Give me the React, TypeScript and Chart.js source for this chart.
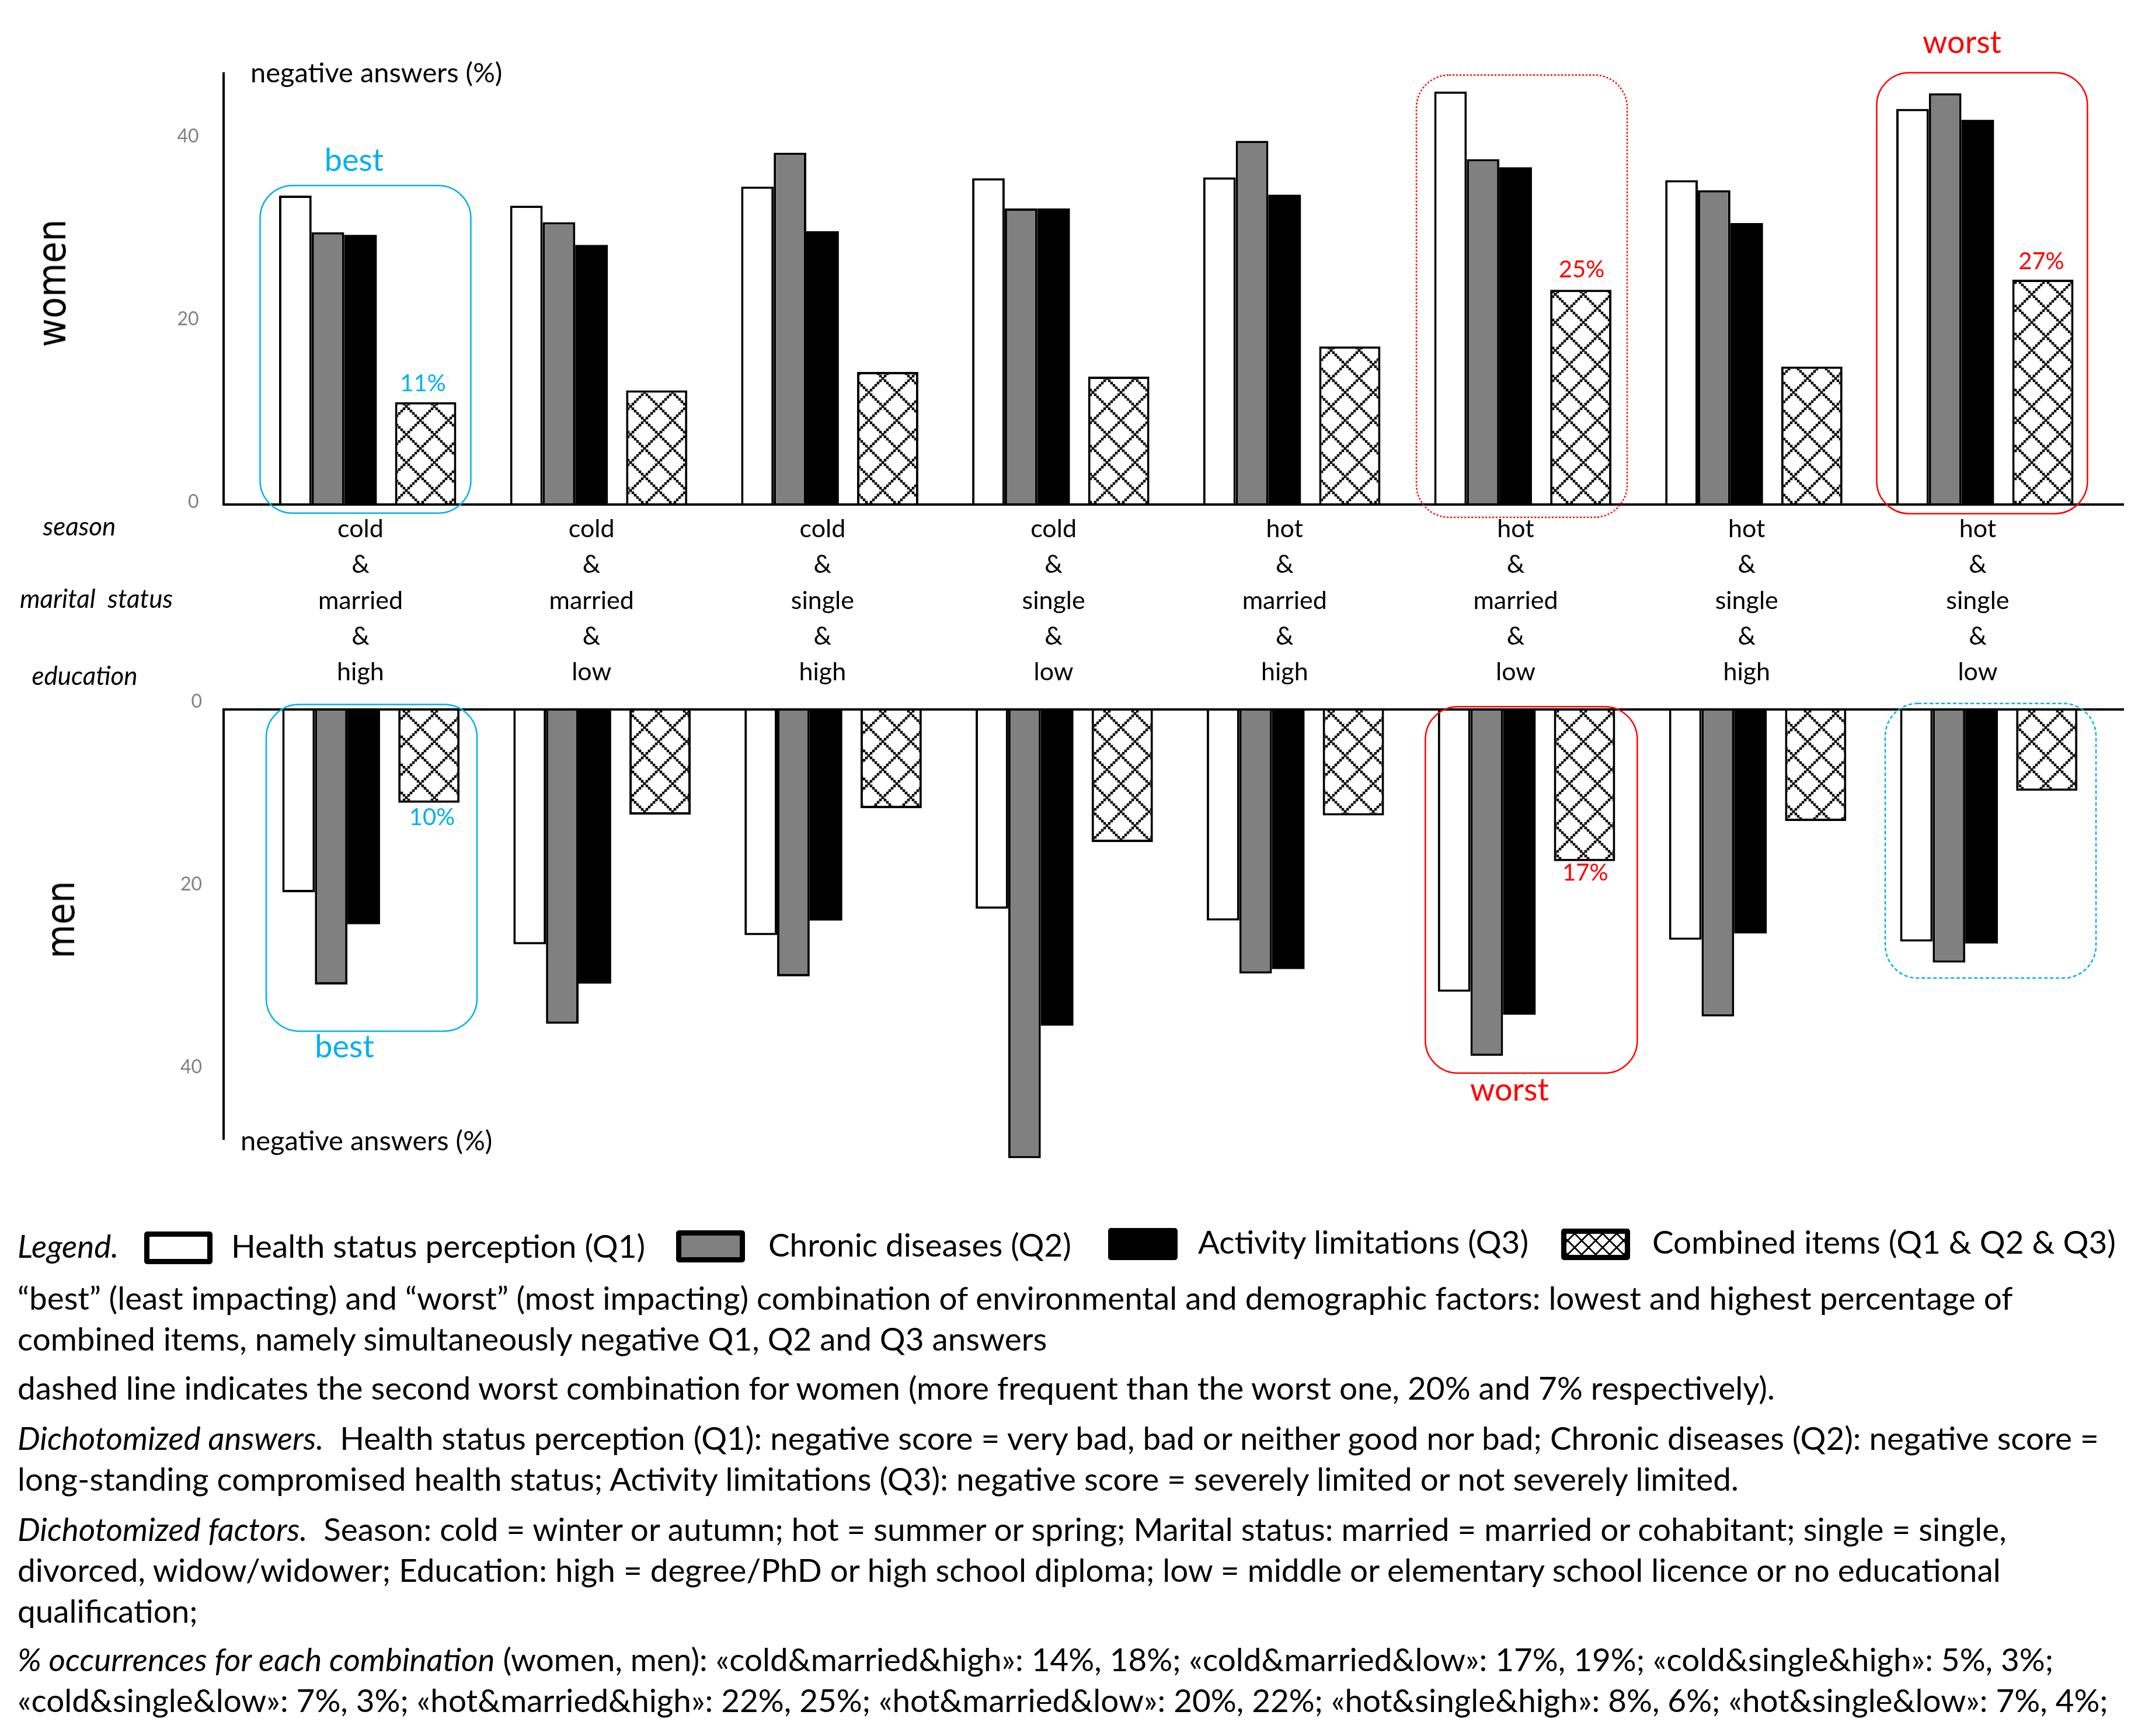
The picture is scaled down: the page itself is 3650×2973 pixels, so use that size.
import React, { useEffect, useRef } from 'react';
import { Chart, registerables } from 'chart.js';

Chart.register(...registerables);

// ---------- data ----------
const seasons = ['cold', 'cold', 'cold', 'cold', 'hot', 'hot', 'hot', 'hot'];
const maritals = ['married', 'married', 'single', 'single', 'married', 'married', 'single', 'single'];
const educations = ['high', 'low', 'high', 'low', 'high', 'low', 'high', 'low'];

const womenQ1 = [33.8, 32.7, 34.8, 35.7, 35.8, 45.2, 35.5, 43.3];
const womenQ2 = [29.8, 30.9, 38.5, 32.4, 39.8, 37.8, 34.4, 45.0];
const womenQ3 = [29.5, 28.4, 29.9, 32.4, 33.9, 36.9, 30.8, 42.1];
const womenQ123 = [11.2, 12.5, 14.5, 14.0, 17.3, 23.5, 15.1, 24.6];

const menQ1 = [20.0, 25.7, 24.7, 21.8, 23.1, 30.9, 25.2, 25.4];
const menQ2 = [30.1, 34.4, 29.2, 49.1, 28.9, 37.9, 33.6, 27.7];
const menQ3 = [23.5, 30.0, 23.1, 34.6, 28.4, 33.4, 24.5, 25.6];
const menQ123 = [10.2, 11.5, 10.8, 14.5, 11.6, 16.6, 12.2, 8.9];

const yTicks = [0, 20, 40];

const seriesNames = [
  'Health status perception (Q1)',
  'Chronic diseases (Q2)',
  'Activity limitations (Q3)',
  'Combined items (Q1 & Q2 & Q3)',
];

// ---------- styling ----------
const W = 3650;
const H = 2973;
const FONT = 'Lato, "Open Sans", sans-serif';
const BLUE = '#00B0F0';
const RED = '#FF0000';
const GRAY = '#808080';
const TEXT_SIZE = 54.8;

type Box = { cat: number; dx0: number; dx1: number; v0: number; v1: number; color: string; dash: number[] };
type Lab = { cat: number; dx: number; v: number; text: string; color: string; size: number };
type AxisCfg = { x: number; end: number; right: number };

const womenBoxes: Box[] = [
  { cat: 0, dx0: -172, dx1: 189, v0: 34.9, v1: -0.95, color: BLUE, dash: [] },
  { cat: 5, dx0: -170, dx1: 191, v0: 47.0, v1: -1.4, color: RED, dash: [3, 3] },
  { cat: 7, dx0: -173, dx1: 188, v0: 47.25, v1: -1.0, color: RED, dash: [] },
];
const womenLabels: Lab[] = [
  { cat: 0, dx: -11, v: 37.6, text: 'best', color: BLUE, size: 54 },
  { cat: 0, dx: 107, v: 13.2, text: '11%', color: BLUE, size: 40 },
  { cat: 5, dx: 113, v: 25.7, text: '25%', color: RED, size: 40 },
  { cat: 7, dx: -27, v: 50.5, text: 'worst', color: RED, size: 54 },
  { cat: 7, dx: 109, v: 26.6, text: '27%', color: RED, size: 40 },
];
const menBoxes: Box[] = [
  { cat: 0, dx0: -167, dx1: 194, v0: -0.55, v1: 35.2, color: BLUE, dash: [] },
  { cat: 5, dx0: -161, dx1: 202, v0: -0.3, v1: 39.8, color: RED, dash: [] },
  { cat: 7, dx0: -165, dx1: 196, v0: -0.66, v1: 29.4, color: BLUE, dash: [6, 4] },
];
const menLabels: Lab[] = [
  { cat: 0, dx: 117, v: 11.8, text: '10%', color: BLUE, size: 40 },
  { cat: 0, dx: -33, v: 37.0, text: 'best', color: BLUE, size: 54 },
  { cat: 5, dx: 113, v: 17.9, text: '17%', color: RED, size: 40 },
  { cat: 5, dx: -17, v: 41.7, text: 'worst', color: RED, size: 54 },
];

function makePattern(): CanvasPattern | string {
  const c = document.createElement('canvas');
  const S = 48;
  c.width = S;
  c.height = S;
  const g = c.getContext('2d');
  if (!g) return '#fff';
  g.fillStyle = '#fff';
  g.fillRect(0, 0, S, S);
  g.fillStyle = '#000';
  const d = 4.5;
  const dot = (px: number, py: number) => {
    for (const ox of [-S, 0, S]) for (const oy of [-S, 0, S]) g.fillRect(px + ox - d / 2, py + oy - d / 2, d, d);
  };
  for (let t = 0; t < S; t += 4) {
    dot(t, t);
    dot(S - t, t);
  }
  return g.createPattern(c, 'repeat') || '#fff';
}

function annotPlugin(boxes: Box[], labels: Lab[], axis: AxisCfg) {
  return {
    id: 'annot',
    afterDatasetsDraw(chart: any) {
      const { ctx } = chart;
      const xs = chart.scales.x;
      const ys = chart.scales.y;
      ctx.save();
      const z = ys.getPixelForValue(0);
      ctx.strokeStyle = '#000';
      ctx.lineWidth = 4;
      ctx.setLineDash([]);
      ctx.beginPath();
      ctx.moveTo(axis.x, ys.getPixelForValue(axis.end));
      ctx.lineTo(axis.x, z);
      ctx.stroke();
      ctx.beginPath();
      ctx.moveTo(axis.x - 2, z);
      ctx.lineTo(axis.right, z);
      ctx.stroke();
      for (const b of boxes) {
        const cx = xs.getPixelForValue(b.cat);
        const ya = ys.getPixelForValue(b.v0);
        const yb = ys.getPixelForValue(b.v1);
        const top = Math.min(ya, yb);
        const h = Math.abs(yb - ya);
        ctx.strokeStyle = b.color;
        ctx.lineWidth = 2.5;
        ctx.setLineDash(b.dash);
        ctx.beginPath();
        ctx.roundRect(cx + b.dx0, top, b.dx1 - b.dx0, h, 56);
        ctx.stroke();
      }
      ctx.setLineDash([]);
      ctx.textAlign = 'center';
      ctx.textBaseline = 'middle';
      for (const l of labels) {
        ctx.font = `${l.size}px ${FONT}`;
        ctx.fillStyle = l.color;
        ctx.fillText(l.text, xs.getPixelForValue(l.cat) + l.dx, ys.getPixelForValue(l.v));
      }
      ctx.restore();
    },
  };
}

function makeDatasets(q1: number[], q2: number[], q3: number[], q123: number[], pattern: any) {
  return [
    { label: seriesNames[0], data: q1, backgroundColor: '#FFFFFF', borderColor: '#000', borderWidth: 4 },
    { label: seriesNames[1], data: q2, backgroundColor: GRAY, borderColor: '#000', borderWidth: 4 },
    { label: seriesNames[2], data: q3, backgroundColor: '#000', borderColor: '#000', borderWidth: 0 },
    { label: '', data: q1.map(() => null), backgroundColor: 'rgba(0,0,0,0)', borderWidth: 0 },
    { label: seriesNames[3], data: q123, backgroundColor: pattern, borderColor: '#000', borderWidth: 4, barPercentage: 1.88 },
  ];
}

const labels = seasons.map((s, i) => [s, '&', maritals[i], '&', educations[i]]);

const zeroPad = (s: any) => {
  s.paddingTop = 0;
  s.paddingBottom = 0;
  s.paddingLeft = 0;
  s.paddingRight = 0;
};

function buildConfig(opts: {
  datasets: any[];
  reverse: boolean;
  max: number;
  padding: { top: number; bottom: number; right: number };
  yWidth: number;
  showX: boolean;
  xHeight: number;
  labelOffset: number;
  plugin: any;
}): any {
  return {
    type: 'bar',
    data: { labels, datasets: opts.datasets },
    options: {
      animation: false,
      responsive: false,
      devicePixelRatio: 1,
      layout: {
        autoPadding: false,
        padding: { left: 0, top: opts.padding.top, bottom: opts.padding.bottom, right: opts.padding.right },
      },
      datasets: { bar: { categoryPercentage: 0.705, barPercentage: 1 } },
      plugins: { legend: { display: false }, tooltip: { enabled: false }, title: { display: false } },
      scales: {
        x: {
          display: true,
          afterFit: (s: any) => {
            s.height = opts.xHeight;
            zeroPad(s);
          },
          grid: { display: false, drawTicks: false },
          border: { display: false },
          ticks: {
            display: opts.showX,
            autoSkip: false,
            maxRotation: 0,
            color: '#000',
            padding: 12,
            font: { family: FONT, size: 43, lineHeight: 1.42 },
          },
        },
        y: {
          min: 0,
          max: opts.max,
          reverse: opts.reverse,
          afterFit: (s: any) => {
            s.width = opts.yWidth;
            zeroPad(s);
          },
          afterBuildTicks: (s: any) => {
            s.ticks = yTicks.map((v) => ({ value: v }));
          },
          grid: { display: false, drawTicks: false },
          border: { display: false },
          ticks: {
            color: GRAY,
            padding: 79,
            labelOffset: opts.labelOffset,
            font: { family: FONT, size: 32 },
          },
        },
      },
    },
    plugins: [opts.plugin],
  };
}

function Txt(props: {
  x: number;
  y: number;
  size?: number;
  italic?: boolean;
  color?: string;
  center?: boolean;
  family?: string;
  children: React.ReactNode;
}) {
  const size = props.size ?? TEXT_SIZE;
  const lh = Math.round(size * 1.3);
  return (
    <div
      style={{
        position: 'absolute',
        left: props.x,
        top: props.y - lh / 2,
        lineHeight: lh + 'px',
        fontSize: size,
        fontFamily: props.family ?? FONT,
        fontStyle: props.italic ? 'italic' : 'normal',
        color: props.color ?? '#000',
        whiteSpace: 'pre',
        transform: props.center ? 'translateX(-50%)' : undefined,
      }}
    >
      {props.children}
    </div>
  );
}

type Seg = [string, boolean];
const bodyLines: { y: number; segs: Seg[] }[] = [
  { y: 2222, segs: [['“best” (least impacting) and “worst” (most impacting) combination of environmental and demographic factors: lowest and highest percentage of', false]] },
  { y: 2292, segs: [['combined items, namely simultaneously negative Q1, Q2 and Q3 answers', false]] },
  { y: 2376, segs: [['dashed line indicates the second worst combination for women (more frequent than the worst one, 20% and 7% respectively).', false]] },
  { y: 2462, segs: [['Dichotomized answers.', true], ['  Health status perception (Q1): negative score = very bad, bad or neither good nor bad; Chronic diseases (Q2): negative score =', false]] },
  { y: 2532, segs: [['long-standing compromised health status; Activity limitations (Q3): negative score = severely limited or not severely limited.', false]] },
  { y: 2618, segs: [['Dichotomized factors.', true], ['  Season: cold = winter or autumn; hot = summer or spring; Marital status: married = married or cohabitant; single = single,', false]] },
  { y: 2688, segs: [['divorced, widow/widower; Education: high = degree/PhD or high school diploma; low = middle or elementary school licence or no educational', false]] },
  { y: 2758, segs: [['qualification;', false]] },
  { y: 2841, segs: [['% occurrences for each combination', true], [' (women, men): «cold&married&high»: 14%, 18%; «cold&married&low»: 17%, 19%; «cold&single&high»: 5%, 3%;', false]] },
  { y: 2911, segs: [['«cold&single&low»: 7%, 3%; «hot&married&high»: 22%, 25%; «hot&married&low»: 20%, 22%; «hot&single&high»: 8%, 6%; «hot&single&low»: 7%, 4%;', false]] },
];

export default function App() {
  const womenRef = useRef<HTMLCanvasElement>(null);
  const menRef = useRef<HTMLCanvasElement>(null);

  useEffect(() => {
    const pattern = makePattern();
    const charts: Chart[] = [];
    if (womenRef.current) {
      charts.push(
        new Chart(
          womenRef.current,
          buildConfig({
            datasets: makeDatasets(womenQ1, womenQ2, womenQ3, womenQ123, pattern),
            reverse: false,
            max: 47.3,
            padding: { top: 123.8, bottom: 0, right: 64.7 },
            yWidth: 419.6,
            showX: true,
            xHeight: 336,
            labelOffset: -4.5,
            plugin: annotPlugin(womenBoxes, womenLabels, { x: 383, end: 47.3, right: 3638 }),
          })
        )
      );
    }
    if (menRef.current) {
      charts.push(
        new Chart(
          menRef.current,
          buildConfig({
            datasets: makeDatasets(menQ1, menQ2, menQ3, menQ123, pattern),
            reverse: true,
            max: 50,
            padding: { top: 65, bottom: 22.5, right: 58 },
            yWidth: 425.1,
            showX: false,
            xHeight: 0,
            labelOffset: -13.5,
            plugin: annotPlugin(menBoxes, menLabels, { x: 383, end: 47.1, right: 3638 }),
          })
        )
      );
    }
    return () => charts.forEach((c) => c.destroy());
  }, []);

  const swatchBase: React.CSSProperties = { position: 'absolute', boxSizing: 'border-box', borderRadius: 5 };

  return (
    <div style={{ position: 'absolute', left: 0, top: 0, width: W, height: H, background: '#fff', overflow: 'hidden' }}>
      <canvas ref={womenRef} width={W} height={1200} style={{ position: 'absolute', left: 0, top: 0, width: W, height: 1200 }} />
      <canvas ref={menRef} width={W} height={870} style={{ position: 'absolute', left: 0, top: 1150, width: W, height: 870 }} />

      {/* axis titles */}
      <Txt x={429} y={123} size={47}>negative answers (%)</Txt>
      <Txt x={412} y={1952} size={47}>negative answers (%)</Txt>

      {/* side labels */}
      <div
        style={{
          position: 'absolute',
          left: 89,
          top: 485,
          fontFamily: '"DejaVu Sans", Verdana, sans-serif',
          fontSize: 68,
          lineHeight: '80px',
          whiteSpace: 'pre',
          transform: 'translate(-50%, -50%) rotate(-90deg) scaleX(0.88)',
        }}
      >
        women
      </div>
      <div
        style={{
          position: 'absolute',
          left: 104,
          top: 1575,
          fontFamily: '"DejaVu Sans", Verdana, sans-serif',
          fontSize: 68,
          lineHeight: '80px',
          whiteSpace: 'pre',
          transform: 'translate(-50%, -50%) rotate(-90deg) scaleX(0.88)',
        }}
      >
        men
      </div>

      {/* factor row labels */}
      <Txt x={136} y={900} size={44} italic center>season</Txt>
      <Txt x={165} y={1024} size={44} italic center>{'marital  status'}</Txt>
      <Txt x={145} y={1156} size={44} italic center>education</Txt>

      {/* legend row */}
      <Txt x={30} y={2133} italic>Legend.</Txt>
      <div style={{ ...swatchBase, left: 247, top: 2109, width: 117, height: 56, border: '9px solid #000', background: '#fff' }} />
      <Txt x={396} y={2133}>{seriesNames[0]}</Txt>
      <div style={{ ...swatchBase, left: 1158, top: 2107, width: 118, height: 55, border: '9px solid #000', background: GRAY }} />
      <Txt x={1316} y={2131}>{seriesNames[1]}</Txt>
      <div style={{ ...swatchBase, left: 1898, top: 2103, width: 119, height: 55, border: '9px solid #000', background: '#000' }} />
      <Txt x={2052} y={2126}>{seriesNames[2]}</Txt>
      <div
        style={{
          ...swatchBase,
          left: 2674,
          top: 2104,
          width: 118,
          height: 54,
          border: '9px solid #000',
          backgroundColor: '#fff',
          backgroundImage:
            'repeating-linear-gradient(45deg, #000 0 3px, transparent 3px 17px), repeating-linear-gradient(-45deg, #000 0 3px, transparent 3px 17px)',
        }}
      />
      <Txt x={2830} y={2126}>{seriesNames[3]}</Txt>

      {/* notes */}
      {bodyLines.map((ln, i) => (
        <Txt key={i} x={30} y={ln.y}>
          {ln.segs.map((s, j) => (
            <span key={j} style={{ fontStyle: s[1] ? 'italic' : 'normal' }}>
              {s[0]}
            </span>
          ))}
        </Txt>
      ))}
    </div>
  );
}
